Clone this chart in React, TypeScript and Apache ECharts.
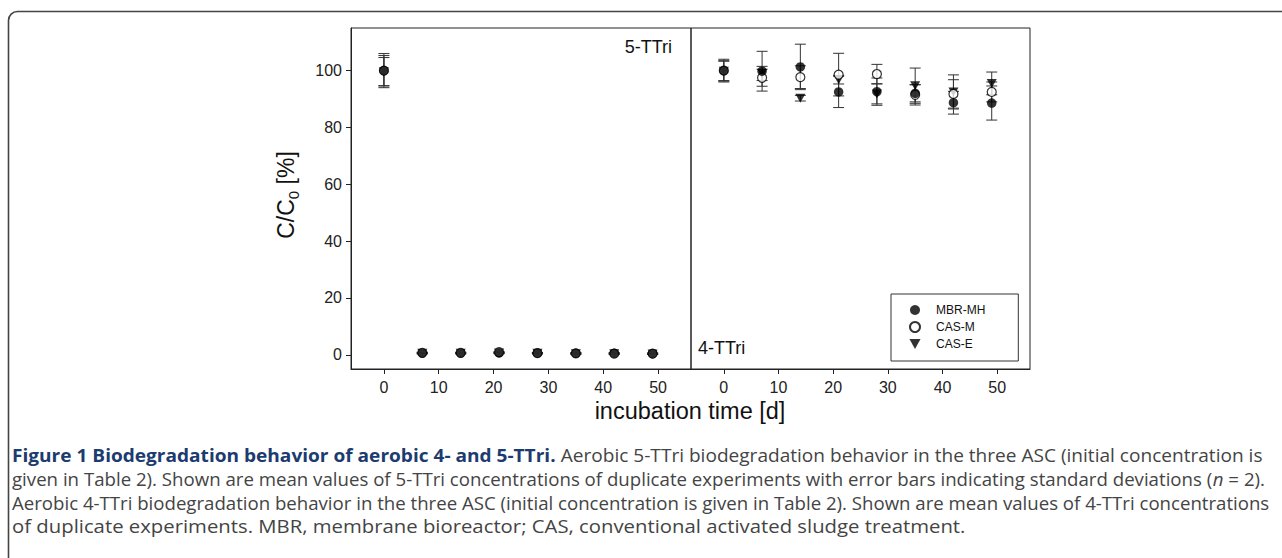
import React, { useEffect, useRef } from "react";
import * as echarts from "echarts";

const days = [0, 7, 14, 21, 28, 35, 42, 49];
const xTicks = [0, 10, 20, 30, 40, 50];
const yTicks = [0, 20, 40, 60, 80, 100];
const names = ["MBR-MH", "CAS-M", "CAS-E"];

// 5-TTri (left panel)
const mbr5 = [100, 0.6, 0.6, 0.7, 0.6, 0.5, 0.5, 0.4];
const casm5 = [100, 0.7, 0.7, 0.9, 0.6, 0.5, 0.4, 0.4];
const case5 = [99.6, 0.5, 0.5, 0.6, 0.5, 0.4, 0.4, 0.3];
const mbr5Err = [6, 0.2, 0.2, 0.2, 0.2, 0.2, 0.2, 0.2];
const casm5Err = [5.3, 0.2, 0.2, 0.2, 0.2, 0.2, 0.2, 0.2];
const case5Err = [5, 0.2, 0.2, 0.2, 0.2, 0.2, 0.2, 0.2];

// 4-TTri (right panel)
const mbr4 = [100, 99.8, 101.3, 92.5, 92.6, 92, 88.7, 88.6];
const casm4 = [100, 97.5, 97.7, 98.6, 98.8, 91.5, 91.8, 92.5];
const case4 = [99.8, 99, 90.3, 96.8, 91.8, 94.7, 92.5, 95.5];
const mbr4Err = [4, 7, 8, 5.5, 4.8, 3, 4, 6];
const casm4Err = [3.5, 3, 4, 7.5, 3.4, 3.6, 5, 3.5];
const case4Err = [3.5, 2.5, 1, 1.5, 3.5, 6.2, 6, 4];

const captionLines = [
  "Aerobic 5-TTri biodegradation behavior in the three ASC (initial concentration is",
  "given in Table 2). Shown are mean values of 5-TTri concentrations of duplicate experiments with error bars indicating standard deviations (",
  "Aerobic 4-TTri biodegradation behavior in the three ASC (initial concentration is given in Table 2). Shown are mean values of 4-TTri concentrations",
  "of duplicate experiments. MBR, membrane bioreactor; CAS, conventional activated sludge treatment.",
];
const captionTitle = "Figure 1 Biodegradation behavior of aerobic 4- and 5-TTri.";

const FONT = "'Liberation Sans', Arial, sans-serif";
const CAP_FONT = "'Open Sans', sans-serif";
const TRI = "path://M0,0L10,0L5,9Z";

export default function App() {
  const ref = useRef<HTMLDivElement>(null);
  useEffect(() => {
    document.body.style.margin = "0";
    const chart = echarts.init(ref.current!, undefined, { renderer: "svg" });

    const canvas = document.createElement("canvas");
    const ctx = canvas.getContext("2d")!;
    const capSize = 17.5;
    const measure = (t: string, weight: string, style = "normal") => {
      ctx.font = `${style} ${weight} ${capSize}px 'Open Sans'`;
      return ctx.measureText(t).width;
    };

    const zip = (a: number[], b: number[]) => days.map((d, i) => [d, a[i], b[i]]);
    const pts = (a: number[]) => days.map((d, i) => [d, a[i]]);

    const errSeries = (data: number[][], gi: number) => ({
      type: "custom",
      xAxisIndex: gi,
      yAxisIndex: gi,
      z: 1,
      silent: true,
      encode: { x: 0, y: 1 },
      data,
      renderItem: (params: any, api: any) => {
        const x = api.value(0), y = api.value(1), e = api.value(2);
        const top = api.coord([x, y + e]);
        const bot = api.coord([x, y - e]);
        const w = 5.5;
        const style = { stroke: "#333", lineWidth: 1 };
        return {
          type: "group",
          children: [
            { type: "line", shape: { x1: top[0], y1: top[1], x2: bot[0], y2: bot[1] }, style },
            { type: "line", shape: { x1: top[0] - w, y1: top[1], x2: top[0] + w, y2: top[1] }, style },
            { type: "line", shape: { x1: bot[0] - w, y1: bot[1], x2: bot[0] + w, y2: bot[1] }, style },
          ],
        };
      },
    });

    const markerStyles = [
      { symbol: "circle", symbolSize: 9.5, itemStyle: { color: "#000" } },
      { symbol: "circle", symbolSize: 9, itemStyle: { color: "#fff", borderColor: "#000", borderWidth: 1.2 } },
      { symbol: TRI, symbolSize: [10, 9], itemStyle: { color: "#000" } },
    ];
    const sc = (name: string, idx: number, data: number[][], gi: number) => ({
      type: "scatter",
      name,
      xAxisIndex: gi,
      yAxisIndex: gi,
      z: 2,
      data,
      ...markerStyles[idx],
    });

    const xAxis = (gi: number) => ({
      type: "value",
      gridIndex: gi,
      min: -6,
      max: 56,
      splitLine: { show: false },
      axisLine: { show: true, onZero: false, lineStyle: { color: "#222", width: 1 } },
      axisTick: { show: true, length: 5, customValues: xTicks, lineStyle: { color: "#222" } },
      axisLabel: { customValues: xTicks, fontSize: 16, fontFamily: FONT, color: "#222", margin: 10 },
    });
    const yAxis = (gi: number) => ({
      type: "value",
      gridIndex: gi,
      min: -5,
      max: 115,
      splitLine: { show: false },
      axisLine: { show: gi === 0, onZero: false, lineStyle: { color: "#222", width: 1 } },
      axisTick: { show: gi === 0, length: 5, customValues: yTicks, lineStyle: { color: "#222" } },
      axisLabel: { show: gi === 0, customValues: yTicks, fontSize: 16, fontFamily: FONT, color: "#222", margin: 9 },
    });

    const capX = 12;
    const capTargets = [1251, 1253, 1258, 954];
    const capY = [455, 479, 503, 527];
    const regColor = "#444";
    const titleColor = "#1c3b6e";

    const w0 = measure(captionTitle + " ", "bold") + measure(captionLines[0], "normal");
    const w1 = measure(captionLines[1], "normal") + measure("n", "normal", "italic") + measure(" = 2).", "normal");
    const w2 = measure(captionLines[2], "normal");
    const w3 = measure(captionLines[3], "normal");
    const widths = [w0, w1, w2, w3];

    const rich = {
      b: { fontFamily: CAP_FONT, fontSize: capSize, fontWeight: "bold", fill: titleColor },
      r: { fontFamily: CAP_FONT, fontSize: capSize, fill: regColor },
      i: { fontFamily: CAP_FONT, fontSize: capSize, fontStyle: "italic", fill: regColor },
    };
    const capTexts = [
      `{b|${captionTitle} }{r|${captionLines[0]}}`,
      `{r|${captionLines[1]}}{i|n}{r| = 2).}`,
      `{r|${captionLines[2]}}`,
      `{r|${captionLines[3]}}`,
    ];

    const option: any = {
      animation: false,
      grid: [
        { left: 351, top: 28, width: 340, height: 341, show: true, borderColor: "#222", borderWidth: 1, backgroundColor: "transparent" },
        { left: 691, top: 28, width: 339, height: 341, show: true, borderColor: "#222", borderWidth: 1, backgroundColor: "transparent" },
      ],
      xAxis: [xAxis(0), xAxis(1)],
      yAxis: [yAxis(0), yAxis(1)],
      legend: {
        orient: "vertical",
        left: 891,
        top: 294,
        padding: [10, 33, 11, 18],
        itemWidth: 32,
        itemHeight: 10,
        itemGap: 5,
        borderColor: "#333",
        borderWidth: 1,
        selectedMode: false,
        textStyle: { fontSize: 12, fontFamily: FONT, color: "#111" },
        data: [
          { name: names[0], icon: "circle" },
          { name: names[1], icon: "circle" },
          { name: names[2], icon: TRI },
        ],
      },
      series: [
        errSeries(zip(mbr5, mbr5Err), 0),
        errSeries(zip(casm5, casm5Err), 0),
        errSeries(zip(case5, case5Err), 0),
        errSeries(zip(mbr4, mbr4Err), 1),
        errSeries(zip(casm4, casm4Err), 1),
        errSeries(zip(case4, case4Err), 1),
        sc(names[2], 2, pts(case5), 0),
        sc(names[1], 1, pts(casm5), 0),
        sc(names[0], 0, pts(mbr5), 0),
        sc(names[2], 2, pts(case4), 1),
        sc(names[1], 1, pts(casm4), 1),
        sc(names[0], 0, pts(mbr4), 1),
      ],
      graphic: [
        {
          type: "rect",
          silent: true,
          shape: { x: 8.5, y: 11.5, width: 1400, height: 800, r: 9 },
          style: { fill: "none", stroke: "#444", lineWidth: 1.6 },
        },
        {
          type: "text",
          x: 672,
          y: 47,
          style: { text: "5-TTri", font: `18px ${FONT}`, fill: "#111", textAlign: "right", textVerticalAlign: "middle" },
        },
        {
          type: "text",
          x: 698,
          y: 348,
          style: { text: "4-TTri", font: `18px ${FONT}`, fill: "#111", textAlign: "left", textVerticalAlign: "middle" },
        },
        {
          type: "text",
          x: 286,
          y: 195,
          rotation: Math.PI / 2,
          style: {
            text: "{a|C/C}{s|0}{a| [%]}",
            textAlign: "center",
            textVerticalAlign: "middle",
            rich: {
              a: { fontFamily: FONT, fontSize: 23, fill: "#111" },
              s: { fontFamily: FONT, fontSize: 15, fill: "#111", padding: [14, 0, 0, 0] },
            },
          },
        },
        {
          type: "text",
          x: 690,
          y: 411,
          style: { text: "incubation time [d]", font: `23.5px ${FONT}`, fill: "#111", textAlign: "center", textVerticalAlign: "middle" },
        },
        ...capTexts.map((t, i) => ({
          type: "text",
          x: capX,
          y: capY[i],
          scaleX: capTargets[i] / widths[i],
          style: { text: t, rich, textAlign: "left", textVerticalAlign: "middle" },
        })),
      ],
    };
    chart.setOption(option);
    return () => chart.dispose();
  }, []);
  return <div ref={ref} style={{ width: 1282, height: 558 }} />;
}
